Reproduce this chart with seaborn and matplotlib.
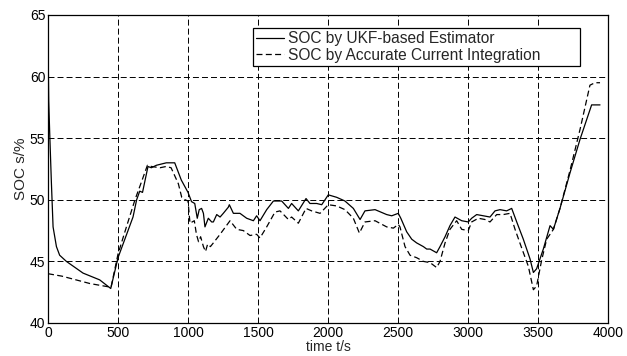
import matplotlib
matplotlib.use("Agg")
import matplotlib.pyplot as plt
import seaborn as sns
import pandas as pd

# ---- data ----
t_ukf = [0, 5, 12, 24, 36, 60, 83, 131, 250, 369, 448, 500, 607, 633, 655, 675, 714,
         738, 774, 845, 905, 952, 1000, 1025, 1048, 1066, 1080, 1097, 1110, 1121, 1145,
         1169, 1181, 1205, 1229, 1252, 1288, 1295, 1324, 1371, 1419, 1467, 1490, 1514,
         1562, 1610, 1669, 1717, 1740, 1788, 1843, 1871, 1919, 1955, 2002, 2062, 2121,
         2181, 2229, 2264, 2336, 2419, 2455, 2502, 2520, 2562, 2598, 2633, 2681, 2705,
         2729, 2776, 2800, 2836, 2871, 2907, 2955, 3002, 3026, 3062, 3110, 3157, 3193,
         3229, 3276, 3312, 3348, 3395, 3443, 3467, 3490, 3538, 3586, 3610, 3657, 3729,
         3800, 3883, 3943]
soc_ukf = [62.7, 58.0, 55.4, 51.4, 47.8, 46.2, 45.5, 45.0, 44.05, 43.5, 42.8, 45.3, 48.6,
           50.0, 50.7, 50.6, 52.7, 52.6, 52.8, 53.0, 53.0, 51.6, 50.6, 49.85, 49.7, 48.5,
           49.2, 49.3, 48.9, 47.8, 48.5, 48.2, 48.2, 48.8, 48.6, 48.9, 49.4, 49.6, 48.9,
           48.9, 48.5, 48.3, 48.7, 48.3, 49.2, 49.9, 49.9, 49.3, 49.7, 49.1, 50.1, 49.7,
           49.7, 49.6, 50.4, 50.2, 49.9, 49.3, 48.4, 49.1, 49.2, 48.8, 48.7, 48.9, 48.5,
           47.4, 46.8, 46.5, 46.2, 46.0, 46.0, 45.7, 46.2, 47.0, 47.9, 48.6, 48.3, 48.2,
           48.5, 48.8, 48.7, 48.6, 49.1, 49.2, 49.1, 49.3, 48.2, 46.8, 45.2, 44.1, 44.4,
           46.0, 47.9, 47.6, 49.3, 52.2, 54.9, 57.7, 57.7]

t_ci = [0, 100, 200, 300, 350, 450, 500, 560, 621, 669, 710, 740, 800, 843, 879, 931, 955,
        979, 1000, 1014, 1045, 1060, 1075, 1090, 1110, 1125, 1140, 1160, 1181, 1229, 1300,
        1348, 1395, 1443, 1490, 1514, 1562, 1621, 1657, 1717, 1740, 1788, 1843, 1883, 1943,
        2002, 2062, 2121, 2181, 2224, 2264, 2336, 2419, 2467, 2502, 2514, 2550, 2586, 2633,
        2681, 2729, 2776, 2800, 2836, 2871, 2919, 2955, 3002, 3026, 3074, 3121, 3157, 3205,
        3252, 3300, 3336, 3383, 3431, 3467, 3490, 3526, 3562, 3610, 3657, 3729, 3800, 3871,
        3907, 3943]
soc_ci = [44.0, 43.8, 43.5, 43.2, 43.1, 42.9, 45.6, 47.8, 50.0, 51.5, 52.8, 52.7, 52.6,
          52.7, 52.6, 51.3, 50.2, 50.0, 49.9, 48.1, 48.3, 47.2, 46.6, 47.0, 46.2, 45.8,
          46.4, 46.2, 46.5, 47.2, 48.3, 47.6, 47.5, 47.1, 47.2, 46.9, 47.8, 49.0, 49.1,
          48.4, 48.6, 48.1, 49.3, 49.1, 48.9, 49.6, 49.5, 49.2, 48.5, 47.3, 48.2, 48.3,
          47.8, 47.7, 48.0, 47.8, 46.2, 45.5, 45.3, 45.0, 44.9, 44.5, 45.0, 46.5, 47.6,
          48.3, 47.6, 47.5, 48.2, 48.5, 48.4, 48.2, 48.8, 48.8, 48.9, 47.6, 46.1, 44.6,
          42.7, 43.0, 45.1, 46.8, 47.6, 49.3, 52.4, 55.7, 59.3, 59.5, 59.5]

labels = ["SOC by UKF-based Estimator", "SOC by Accurate Current Integration"]
x_ticks = [0, 500, 1000, 1500, 2000, 2500, 3000, 3500, 4000]
y_ticks = [40, 45, 50, 55, 60, 65]

sns.set_style("white")
plt.rcParams["font.family"] = ["Liberation Sans", "DejaVu Sans"]
plt.rcParams["lines.scale_dashes"] = False

fig = plt.figure(figsize=(6.27, 3.56), dpi=100)
ax = fig.add_axes([0.0766, 0.0927, 0.8931, 0.8653])

df1 = pd.DataFrame({"t": t_ukf, "soc": soc_ukf})
df2 = pd.DataFrame({"t": t_ci, "soc": soc_ci})
sns.lineplot(data=df1, x="t", y="soc", ax=ax, color="black", lw=0.9,
             label=labels[0], sort=False)
sns.lineplot(data=df2, x="t", y="soc", ax=ax, color="black", lw=0.9,
             label=labels[1], sort=False)
dash_data = (0, (4.3, 2.4))
ax.lines[1].set_linestyle(dash_data)

ax.set_xlim(0, 4000)
ax.set_ylim(40, 65)
ax.set_xticks(x_ticks)
ax.set_yticks(y_ticks)
ax.grid(True, color="black", linestyle=(0, (4.3, 2.2)), linewidth=0.7)
ax.tick_params(direction="in", length=3, width=0.7, labelsize=10, colors="black",
               pad=2)
for s in ax.spines.values():
    s.set_visible(True)
    s.set_color("black")
    s.set_linewidth(0.9)
ax.set_xlabel("time t/s", fontsize=10, labelpad=0)
ax.set_ylabel("SOC s/%", fontsize=11, labelpad=1)

leg = ax.legend(loc="upper left", bbox_to_anchor=(0.366, 0.844, 0.584, 0.114),
                mode="expand", fontsize=11.2,
                frameon=True, fancybox=False, edgecolor="black", framealpha=1,
                handlelength=1.8, handletextpad=0.25, borderpad=0.2,
                labelspacing=0.1, borderaxespad=0)
leg.get_frame().set_linewidth(0.9)
leg.get_lines()[1].set_linestyle(dash_data)

fig.savefig("out.png", dpi=100, facecolor="white")
